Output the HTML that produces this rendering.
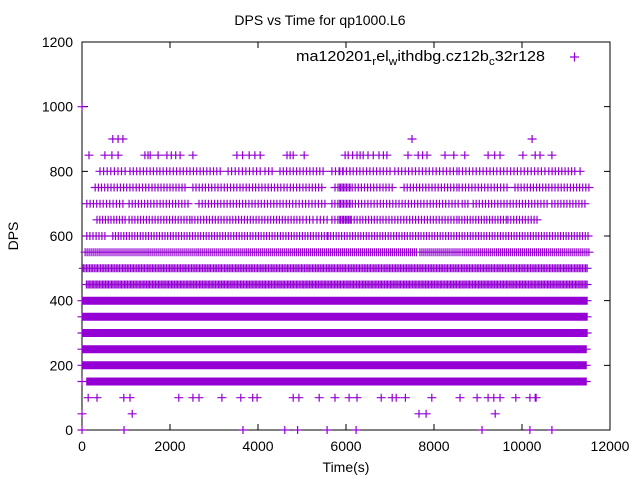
<!DOCTYPE html>
<html><head><meta charset="utf-8"><style>
body{margin:0;background:#fff}
svg{display:block;font-family:"Liberation Sans",sans-serif}
</style></head><body>
<svg id="chart" width="640" height="480" viewBox="0 0 640 480" xmlns="http://www.w3.org/2000/svg">
<rect width="640" height="480" fill="#fff"/>
<text x="320" y="25" font-size="14" text-anchor="middle">DPS vs Time for qp1000.L6</text>
<text transform="translate(18,236) rotate(-90)" font-size="14" text-anchor="middle">DPS</text>
<text x="346" y="472" font-size="14" text-anchor="middle">Time(s)</text>
<g>
<text x="296" y="61" font-size="15" textLength="249" lengthAdjust="spacingAndGlyphs">ma120201<tspan font-size="11" dy="4">r</tspan><tspan dy="-4">el</tspan><tspan font-size="11" dy="4">w</tspan><tspan dy="-4">ithdbg.cz12b</tspan><tspan font-size="11" dy="4">c</tspan><tspan dy="-4">32r128</tspan></text>
<path d="M570 57h9M574.5 52.5v9" stroke="#9400d3" stroke-width="1.2"/>
</g>
<g id="axes"></g>
<g id="marks"></g>
</svg>
<script>
// Data (levels in DPS, times in seconds)
const xTicks = [0,2000,4000,6000,8000,10000,12000];
const yTicks = [0,200,400,600,800,1000,1200];
// isolated points: [time, dps]
const pts1000 = [[0,1000]];
const pts900 = [[700,900],[820,900],[930,900],[7500,900],[10230,900]];
const pts850 = [[160,850],[520,850],[680,850],[820,850],[1430,850],[1500,850],[1550,850],[1730,850],[1930,850],[2030,850],[2130,850],[2230,850],[2520,850],[3520,850],[3650,850],[3800,850],[3930,850],[4050,850],[4660,850],[4730,850],[4800,850],[5050,850],[5980,850],[6050,850],[6150,850],[6250,850],[6320,850],[6390,850],[6500,850],[6620,850],[6750,850],[6850,850],[6930,850],[7410,850],[7640,850],[7740,850],[7840,850],[8250,850],[8450,850],[8700,850],[9230,850],[9380,850],[9500,850],[10020,850],[10300,850],[10410,850],[10680,850]];
const pts100 = [140,340,950,1090,2200,2520,2660,3180,3610,3880,3980,4800,4930,5390,5750,6070,6250,6800,7050,7140,7350,7950,8590,8980,9230,9360,9500,9860,10180,10300,10320];
const pts50 = [0,1140,7660,7820,9390];
const pts0 = [0,955,3660,4610,4900,5570,6230,9090,10180,10680];
// continuous runs per level: [dps, start, end]
const runLevels = [800,800,800,800,800,800,800,800,800,800,800,800,
  750,750,750,750,750,750,750,750,750,
  700,700,700,700,700,700,700,700,700,
  650,650,650,650,650,650,650,650,650,650,650,
  600,600,600,600,550,550,550,500,450,400,350,300,250,200,150];
const runStarts = [410,1090,1770,3320,4160,4500,5680,5860,7110,8570,10610,11320,
  300,1660,2520,3660,5750,5860,7320,8570,9840,
  110,1070,2660,4570,5680,5860,8640,8890,10680,
  340,1070,2500,5020,5340,5680,5860,6910,8570,9200,9680,
  110,320,700,5590,70,7680,8640,30,100,0,0,0,0,0,110];
const runEnds = [980,1700,3140,4050,4320,5480,6090,7000,8520,10520,11200,11320,
  1590,2340,3590,5450,6090,7050,8520,9660,11520,
  930,2410,4500,5520,6090,8550,8770,10570,11430,
  980,2450,4950,5250,5570,6090,6840,8520,9140,9640,10340,
  250,520,5570,11500,7600,8590,11520,11480,11480,11480,11480,11480,11460,11460,11460];
const runDensity = [13,13,13,13,13,13,13,13,13,13,13,13,
  14,14,14,14,14,14,14,14,14,
  14,14,14,14,14,14,14,14,14,
  15,15,15,15,15,15,15,15,15,15,15,
  16,16,16,16,22,22,22,28,30,40,45,50,55,80,80]; // points per 1000 s

const X0=82,X1=610,Y0=430,Y1=42;
const xs = t => X0 + t/12000*(X1-X0);
const ys = v => Y0 - v/1200*(Y0-Y1);
const NS="http://www.w3.org/2000/svg";
const axes=document.getElementById('axes');
const marks=document.getElementById('marks');
function mk(tag,attrs,parent){const e=document.createElementNS(NS,tag);for(const k in attrs)e.setAttribute(k,attrs[k]);parent.appendChild(e);return e;}

let d='';
xTicks.forEach(t=>{const x=xs(t);d+=`M${x} ${Y0}v-6M${x} ${Y1}v6`;
  const tx=mk('text',{x:x,y:Y0+21,'font-size':14,'text-anchor':'middle'},axes);
  
  
  tx.textContent=t;});
yTicks.forEach(v=>{const y=ys(v);d+=`M${X0} ${y}h6M${X1} ${y}h-6`;
  const tx=mk('text',{x:X0-9,y:y+5,'font-size':14,'text-anchor':'end'},axes);
  
  
  tx.textContent=v;});
const tk=mk('path',{d:d,stroke:'#000','stroke-width':1,fill:'none'},axes);


const fr=mk('rect',{x:X0,y:Y1,width:X1-X0,height:Y0-Y1,fill:'none',stroke:'#000','stroke-width':1},axes);



let m='';
function plus(t,v){const x=xs(t),y=ys(v);m+=`M${(x-4.5).toFixed(1)} ${y.toFixed(1)}h9M${x.toFixed(1)} ${(y-4).toFixed(1)}v8`;}
pts1000.forEach(p=>plus(p[0],p[1]));
pts900.forEach(p=>plus(p[0],p[1]));
pts850.forEach(p=>plus(p[0],p[1]));
pts100.forEach(t=>plus(t,100));
pts50.forEach(t=>plus(t,50));
pts0.forEach(t=>plus(t,0));
plus(0,150);
for(let i=0;i<runLevels.length;i++){
  const v=runLevels[i],a=runStarts[i],b=runEnds[i];
  const n=Math.max(1,Math.round((b-a)/1000*runDensity[i]));
  for(let k=0;k<=n;k++) plus(a+(b-a)*k/n,v);
}
const mp=mk('path',{d:m,stroke:'#9400d3','stroke-width':1.2,fill:'none'},marks);


</script>
</body></html>
